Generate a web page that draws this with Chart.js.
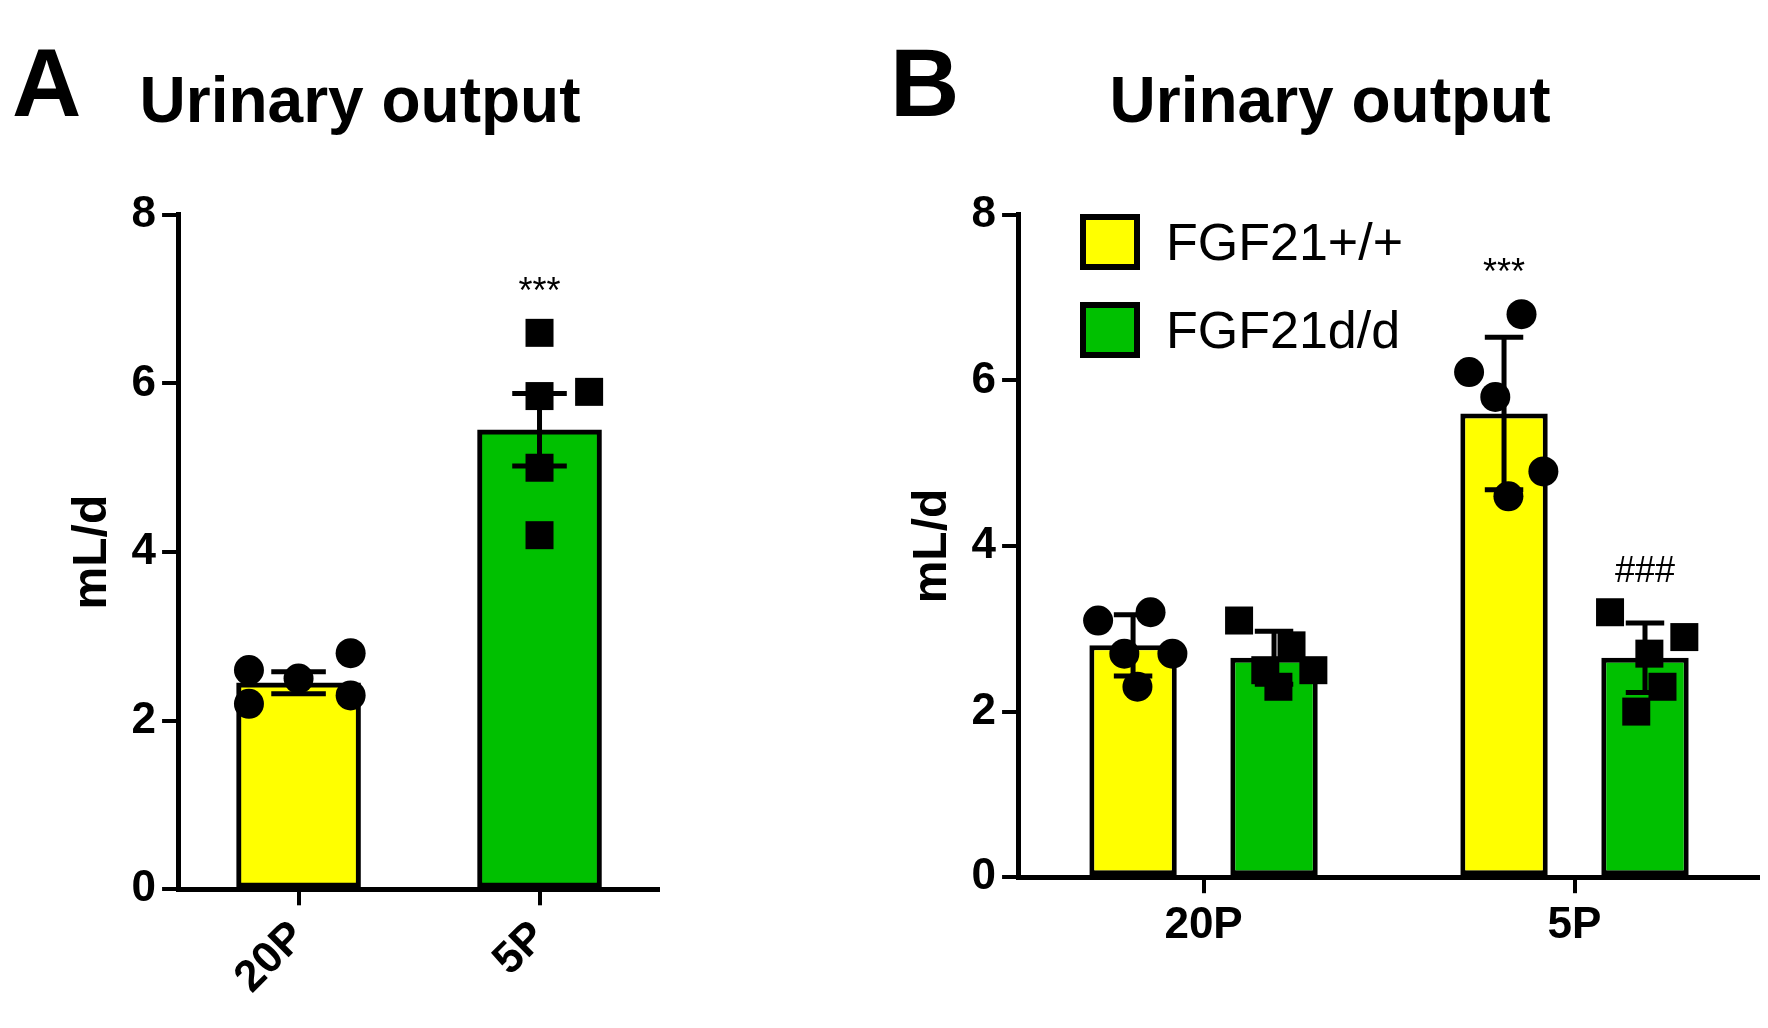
<!DOCTYPE html>
<html>
<head>
<meta charset="utf-8">
<script src="https://cdn.jsdelivr.net/npm/chart.js@4.4.0/dist/chart.umd.min.js"></script>
<style>
  body { margin: 0; background: #fff; font-family: "Liberation Sans", Arial, sans-serif; }
  .panel { position: absolute; top: 0; height: 1028px; }
  .letter { position: absolute; font-weight: bold; font-size: 96px; top: 28px; }
  .leg { position: absolute; font-size: 52px; display: flex; align-items: center; }
  .leg span { display: inline-block; width: 48px; height: 44px; border: 6px solid #000; margin-right: 26px; }
</style>
</head>
<body>
<div class="letter" style="left:12px">A</div>
<div class="letter" style="left:890px">B</div>
<div class="panel" style="left:60px;width:600px"><canvas id="chartA"></canvas></div>
<div class="panel" style="left:900px;width:860px"><canvas id="chartB"></canvas></div>
<div class="leg" style="left:1080px;top:212px"><span style="background:#ffff00"></span>FGF21+/+</div>
<div class="leg" style="left:1080px;top:300px"><span style="background:#00c000"></span>FGF21d/d</div>
<script>
'use strict';
var YELLOW = '#ffff00', GREEN = '#00c000';

// Panel A
var catsA = ['20P', '5P'];
var meanA = [2.45, 5.45];
var errA = [0.13, 0.43];
var ptsA = [[2.6, 2.2, 2.5, 2.8, 2.3], [6.6, 5.85, 5.9, 5.0, 4.2]];
var starsA = ['', '***'];

// Panel B
var catsB = ['20P', '5P'];
var meanWT = [2.8, 5.6];
var errWT = [0.37, 0.92];
var meanKO = [2.65, 2.65];
var errKO = [0.32, 0.42];
var ptsWT = [[3.1, 2.7, 2.3, 3.2, 2.7], [6.1, 5.8, 4.6, 6.8, 4.9]];
var ptsKO = [[3.1, 2.5, 2.3, 2.8, 2.5], [3.2, 2.0, 2.7, 2.3, 2.9]];
var marksB = [['', ''], ['***', '###']];

var yTicks = [0, 2, 4, 6, 8];

// horizontal jitter of the dots, as a fraction of bar width
var jitter = [-0.4, -0.1, 0.05, 0.2, 0.45];
var jitA = [[-0.4, -0.4, 0, 0.42, 0.42], [0, 0, 0.4, 0, 0]];

var overlay = {
  id: 'overlay',
  afterDatasetsDraw: function(chart) {
    var ctx = chart.ctx, y = chart.scales.y;
    chart.data.datasets.forEach(function(ds, di) {
      var meta = chart.getDatasetMeta(di);
      meta.data.forEach(function(bar, i) {
        var m = ds.data[i], e = ds.err[i];
        var half = bar.width * 0.22;
        ctx.save();
        ctx.strokeStyle = '#000'; ctx.lineWidth = 5;
        ctx.beginPath();
        ctx.moveTo(bar.x, y.getPixelForValue(m - e)); ctx.lineTo(bar.x, y.getPixelForValue(m + e));
        ctx.moveTo(bar.x - half, y.getPixelForValue(m + e)); ctx.lineTo(bar.x + half, y.getPixelForValue(m + e));
        ctx.moveTo(bar.x - half, y.getPixelForValue(m - e)); ctx.lineTo(bar.x + half, y.getPixelForValue(m - e));
        ctx.stroke();
        ctx.fillStyle = '#000';
        var jit = ds.jit ? ds.jit[i] : jitter;
        var shape = Array.isArray(ds.shape) ? ds.shape[i] : ds.shape;
        ds.pts[i].forEach(function(v, k) {
          var px = bar.x + jit[k] * bar.width, py = y.getPixelForValue(v);
          ctx.beginPath();
          if (shape === 'square') ctx.rect(px - 14, py - 14, 28, 28);
          else ctx.arc(px, py, 15, 0, Math.PI * 2);
          ctx.fill();
        });
        if (ds.marks[i]) {
          ctx.font = '36px "Liberation Sans", Arial';
          ctx.textAlign = 'center'; ctx.textBaseline = 'bottom';
          var top = Math.max.apply(null, ds.pts[i].concat([m + e]));
          ctx.fillText(ds.marks[i], bar.x, y.getPixelForValue(top) - 22);
        }
        ctx.restore();
      });
    });
  }
};

function axes(rotate) {
  var font = { size: 44, weight: 'bold', family: '"Liberation Sans", Arial' };
  return {
    x: {
      border: { color: '#000', width: 5 },
      grid: { offset: false, drawOnChartArea: false, color: '#000', lineWidth: 4, tickLength: 16 },
      ticks: { color: '#000', font: font, maxRotation: rotate, minRotation: rotate, padding: 6 }
    },
    y: {
      min: 0, max: 8,
      afterBuildTicks: function(s) { s.ticks = yTicks.map(function(v) { return { value: v }; }); },
      border: { color: '#000', width: 5 },
      grid: { drawOnChartArea: false, color: '#000', lineWidth: 4, tickLength: 16 },
      ticks: { color: '#000', font: font, padding: 6 },
      title: { display: true, text: 'mL/d', color: '#000', font: { size: 48, weight: 'bold', family: '"Liberation Sans", Arial' } }
    }
  };
}

function baseOpts(rotate, padBottom) {
  return {
    responsive: true, maintainAspectRatio: false, animation: false,
    layout: { padding: { top: 0, bottom: padBottom, right: 0 } },
    plugins: {
      legend: { display: false }, tooltip: { enabled: false },
      title: { display: true, text: 'Urinary output', color: '#000',
               font: { size: 64, weight: 'bold', family: '"Liberation Sans", Arial' },
               padding: { top: 66, bottom: 72 } }
    },
    scales: axes(rotate)
  };
}

new Chart(document.getElementById('chartA'), {
  type: 'bar',
  data: {
    labels: catsA,
    datasets: [{
      data: meanA, err: errA, pts: ptsA, marks: starsA, shape: ['circle', 'square'], jit: jitA,
      backgroundColor: [YELLOW, GREEN], borderColor: '#000', borderWidth: 5,
      borderSkipped: false, barThickness: 124
    }]
  },
  options: baseOpts(45, 18),
  plugins: [overlay]
});

new Chart(document.getElementById('chartB'), {
  type: 'bar',
  data: {
    labels: catsB,
    datasets: [
      { data: meanWT, err: errWT, pts: ptsWT, marks: [marksB[0][0], marksB[1][0]], shape: 'circle',
        backgroundColor: YELLOW, borderColor: '#000', borderWidth: 5, borderSkipped: false,
        categoryPercentage: 0.76, barPercentage: 0.62 },
      { data: meanKO, err: errKO, pts: ptsKO, marks: [marksB[0][1], marksB[1][1]], shape: 'square',
        backgroundColor: GREEN, borderColor: '#000', borderWidth: 5, borderSkipped: false,
        categoryPercentage: 0.76, barPercentage: 0.62 }
    ]
  },
  options: baseOpts(0, 70),
  plugins: [overlay]
});
</script>
</body>
</html>
